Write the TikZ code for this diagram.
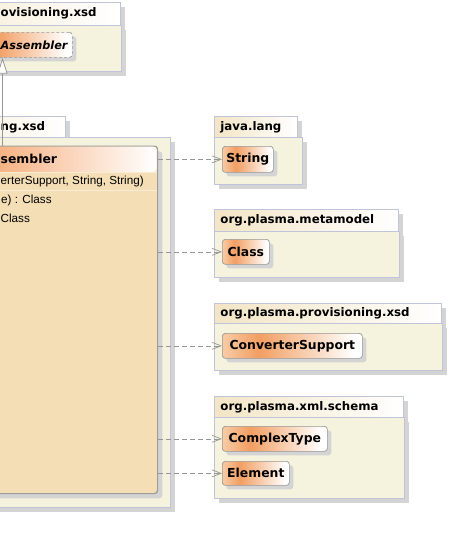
\documentclass[tikz,border=0pt]{standalone}
\usepackage{fontspec}
\setmainfont{Liberation Sans}
\newfontfamily\dvs{DejaVu Sans}
\usetikzlibrary{arrows.meta,shadows}
\definecolor{pkgborder}{RGB}{192,196,218}
\definecolor{pkgfill}{RGB}{245,243,221}
\definecolor{tableft}{RGB}{243,229,197}
\definecolor{shadowgray}{RGB}{212,212,212}
\definecolor{nsA}{RGB}{248,204,166}
\definecolor{nsB}{RGB}{242,158,98}
\definecolor{clsfill}{RGB}{244,222,181}
\definecolor{clsborder}{RGB}{150,150,150}
\definecolor{hdrorange}{RGB}{246,178,130}
\definecolor{depgray}{RGB}{150,150,150}
\definecolor{sepcol}{RGB}{250,236,212}
\pgfdeclarehorizontalshading{nodeshade}{100bp}{color(0bp)=(nsA); color(25bp)=(nsA); color(38bp)=(nsB); color(72bp)=(white); color(100bp)=(white)}
\pgfdeclarehorizontalshading{tabshade}{100bp}{color(0bp)=(tableft); color(25bp)=(tableft); color(75bp)=(white); color(100bp)=(white)}
\begin{document}
\begin{tikzpicture}[x=1pt,y=-1pt,
  mtext/.style={inner sep=0pt, anchor=west, font=\fontsize{11.7}{13}\selectfont},
  shadowed/.style={drop shadow={shadow xshift=5pt,shadow yshift=-5pt,fill=shadowgray,opacity=1}},
  tabfont/.style={font=\dvs\bfseries\fontsize{11.8}{13}\selectfont},
  pkgtab/.style={draw=pkgborder, line width=0.8pt, shading=tabshade, shade, anchor=north west, inner xsep=6pt, inner ysep=0pt, align=left, tabfont, shadowed},
  pkgbody/.style={draw=pkgborder, line width=0.8pt, fill=pkgfill, anchor=north west, inner sep=0pt, shadowed},
  clsnode/.style={draw=clsborder, line width=0.7pt, rounded corners=3pt, shading=nodeshade, shade, anchor=north west, inner sep=0pt, font=\dvs\bfseries\fontsize{12.4}{14}\selectfont, drop shadow={shadow xshift=4pt,shadow yshift=-4pt,fill=shadowgray,opacity=1}},
  dep/.style={draw=depgray, line width=0.7pt, dash pattern=on 5pt off 3pt, -{Straight Barb[length=9pt,width=7pt]}},
  gen/.style={draw=clsborder, line width=0.8pt, -{Triangle[length=16pt,width=10pt,fill=white]}},
]
\useasboundingbox (0,0) rectangle (450,549);
\clip (0,0) rectangle (450,549);

% ---- top-left package (partially visible)
\node[pkgtab, minimum width=240pt, minimum height=23pt, text width=228pt] (tlTab) at (-120,2) {};
\node[pkgbody, minimum width=241pt, minimum height=46pt] (tlBody) at (-120,25) {};
\node[tabfont, anchor=west, inner sep=0pt] (tlLabel) at (0.5,13.5) {ovisioning.xsd};
\node[clsnode, dash pattern=on 3pt off 2pt, minimum width=102pt, minimum height=25pt] (assembler) at (-30,32) {};
\node[anchor=west, inner sep=0pt, font=\dvs\bfseries\itshape\fontsize{11.3}{13}\selectfont] (asmLabel) at (0.5,45) {Assembler};

% ---- left package (partially visible)
\node[pkgtab, minimum width=185pt, minimum height=21pt, text width=173pt] (lTab) at (-120,116) {};
\node[tabfont, anchor=west, inner sep=0pt] (lLabel) at (0.5,127) {ng.xsd};
\node[pkgbody, minimum width=290pt, minimum height=370pt] (lBody) at (-120,137) {};

% ---- class box
\node[draw=clsborder, line width=0.7pt, fill=clsfill, rounded corners=3pt, anchor=north west, inner sep=0pt,
      minimum width=357pt, minimum height=347pt, shadowed] (clsbox) at (-200,146) {};
\shade[left color=hdrorange, right color=white] (-2,172) -- (-2,146.4) [rounded corners=3pt] -- (156.6,146.4) -- (156.6,172) -- cycle;
\draw[sepcol, line width=0.8pt] (-200,172.5) -- (156.5,172.5);
\draw[sepcol, line width=0.8pt] (-200,190.5) -- (156.5,190.5);
\draw[clsborder, line width=0.7pt, rounded corners=3pt] (clsbox.north west) rectangle (clsbox.south east);
\node[anchor=west, inner sep=0pt, font=\dvs\bfseries\fontsize{12.4}{14}\selectfont] (cname) at (0.5,159) {sembler};
\node[mtext] (m1) at (0.5,181.5) {erterSupport, String, String)};
\node[mtext] (m2) at (1,200.5) {e) : Class};
\node[mtext] (m3) at (0.5,218) {Class};

% ---- right packages
\node[pkgtab, minimum width=83pt, minimum height=21pt, text width=71pt] (p1Tab) at (214,116) {java.lang};
\node[pkgbody, minimum width=88pt, minimum height=47pt] (p1Body) at (214,137) {};
\node[clsnode, minimum width=51pt, minimum height=26pt] (string) at (222,146) {String};

\node[pkgtab, minimum width=184pt, minimum height=22pt, text width=172pt] (p2Tab) at (214,209) {org.plasma.metamodel};
\node[pkgbody, minimum width=185pt, minimum height=46pt] (p2Body) at (214,231) {};
\node[clsnode, minimum width=47pt, minimum height=25pt] (class) at (222,239) {Class};

\node[pkgtab, minimum width=227pt, minimum height=20pt, text width=215pt] (p3Tab) at (214,303) {org.plasma.provisioning.xsd};
\node[pkgbody, minimum width=228pt, minimum height=47pt] (p3Body) at (214,323) {};
\node[clsnode, minimum width=140pt, minimum height=25pt] (convsup) at (222,333) {ConverterSupport};

\node[pkgtab, minimum width=189pt, minimum height=21pt, text width=177pt] (p4Tab) at (214,396) {org.plasma.xml.schema};
\node[pkgbody, minimum width=190pt, minimum height=81pt] (p4Body) at (214,417) {};
\node[clsnode, minimum width=105pt, minimum height=25pt] (complex) at (222,426) {ComplexType};
\node[clsnode, minimum width=67pt, minimum height=24pt] (element) at (222,461) {Element};

% ---- connectors
\draw[dep] (clsbox.east |- string) -- (string);
\draw[dep] (clsbox.east |- class) -- (class);
\draw[dep] (clsbox.east |- convsup) -- (convsup);
\draw[dep] (clsbox.east |- complex) -- (complex);
\draw[dep] (clsbox.east |- element) -- (element);

\coordinate (gx) at (2.5,0);
\draw[gen] (clsbox.north -| gx) -- (assembler.south -| gx);
\end{tikzpicture}
\end{document}
